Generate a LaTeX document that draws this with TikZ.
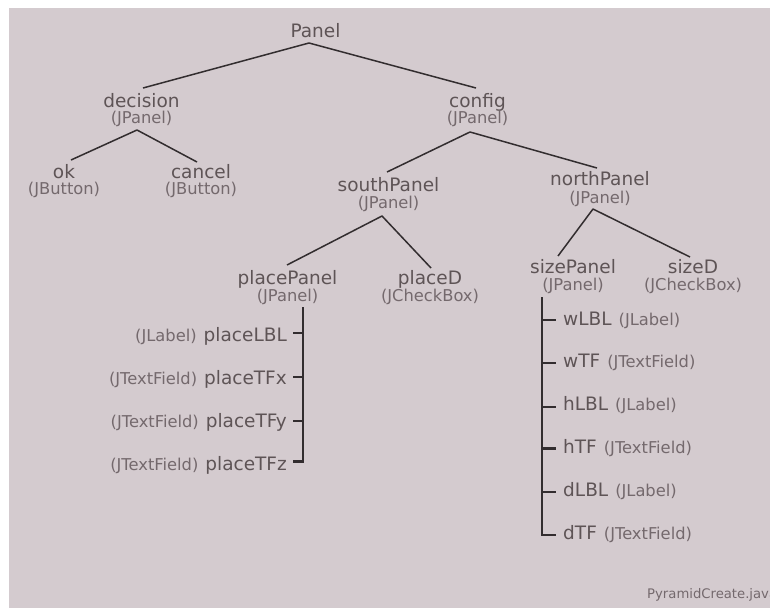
\documentclass[tikz,border=0pt]{standalone}
\usepackage{fontspec}
\newfontfamily\dejavu{DejaVu Sans}
\newcommand\namefont{\dejavu\fontsize{18.5}{20}\selectfont}
\newcommand\typefont{\dejavu\fontsize{16.3}{18}\selectfont}
\newcommand\filefont{\dejavu\fontsize{13.2}{15}\selectfont}
\definecolor{bgcol}{RGB}{212,203,207}
\definecolor{namecol}{RGB}{94,84,86}
\definecolor{typecol}{RGB}{116,105,109}
\definecolor{linecol}{RGB}{50,45,47}
\tikzset{
  compname/.style={font=\namefont, text=namecol, inner sep=0pt, anchor=base},
  comptype/.style={font=\typefont, text=typecol, inner sep=0pt, anchor=base},
  link/.style={draw=linecol, line width=1.5pt, line join=round},
  bar/.style={draw=linecol, line width=2.4pt, line join=miter},
  leftitem/.style={inner sep=0pt, anchor=base east, text=namecol},
  rightitem/.style={inner sep=0pt, anchor=base west, text=namecol},
}
\newcommand\tp[1]{{\typefont\color{typecol}#1}}
\newcommand\gap{\hspace{7pt}}
\begin{document}
\begin{tikzpicture}[x=1pt,y=-1pt]
\useasboundingbox (0,0) rectangle (770,608);
\fill[white] (0,0) rectangle (770,608);
\fill[bgcol] (8.5,7.5) rectangle (770,608);

% component tree
\node[compname] (panel) at (315.5,37.5) {Panel};

\node[compname] (decision) at (141.5,107) {decision};
\node[comptype] (decisionT) at (141.5,123) {(JPanel)};
\node[compname] (config) at (477.5,107) {config};
\node[comptype] (configT) at (477.5,123) {(JPanel)};

\node[compname] (ok) at (64,178) {ok};
\node[comptype] (okT) at (64,194) {(JButton)};
\node[compname] (cancel) at (201,178) {cancel};
\node[comptype] (cancelT) at (201,194) {(JButton)};

\node[compname] (south) at (388.5,191.5) {southPanel};
\node[comptype] (southT) at (388.5,208) {(JPanel)};
\node[compname] (north) at (600,185.5) {northPanel};
\node[comptype] (northT) at (600,203) {(JPanel)};

\node[compname] (place) at (287.5,284.5) {placePanel};
\node[comptype] (placeT) at (287.5,301.3) {(JPanel)};
\node[compname] (placeD) at (430,284.5) {placeD};
\node[comptype] (placeDT) at (430,301.3) {(JCheckBox)};

\node[compname] (size) at (573,273.3) {sizePanel};
\node[comptype] (sizeT) at (573,290) {(JPanel)};
\node[compname] (sizeD) at (693,273.3) {sizeD};
\node[comptype] (sizeDT) at (693,290) {(JCheckBox)};

% joints below each parent and ends above each child
\coordinate (panelJ) at (309,43);
\coordinate (decisionE) at (143,88);
\coordinate (configE) at (476,88);
\coordinate (decisionJ) at (137,130);
\coordinate (okE) at (71,160);
\coordinate (cancelE) at (197,162);
\coordinate (configJ) at (470,132);
\coordinate (southE) at (387,172);
\coordinate (northE) at (597,168);
\coordinate (southJ) at (382,216);
\coordinate (placeE) at (287,265);
\coordinate (placeDE) at (431,268);
\coordinate (northJ) at (593,209);
\coordinate (sizeE) at (558,256);
\coordinate (sizeDE) at (690,257);

\draw[link] (decisionE) -- (panelJ) -- (configE);
\draw[link] (okE) -- (decisionJ) -- (cancelE);
\draw[link] (southE) -- (configJ) -- (northE);
\draw[link] (placeE) -- (southJ) -- (placeDE);
\draw[link] (sizeE) -- (northJ) -- (sizeDE);

% placePanel children
\node[leftitem] (pLBL) at (287,341.7) {\tp{(JLabel)}\gap{\namefont placeLBL}};
\node[leftitem] (pTFx) at (287,384.7) {\tp{(JTextField)}\gap{\namefont placeTFx}};
\node[leftitem] (pTFy) at (287,427.5) {\tp{(JTextField)}\gap{\namefont placeTFy}};
\node[leftitem] (pTFz) at (287,470) {\tp{(JTextField)}\gap{\namefont placeTFz}};

\coordinate (pTop) at (303,307);
\coordinate (p1) at (303,333);
\coordinate (p2) at (303,377);
\coordinate (p3) at (303,421);
\coordinate (p4) at (303,461.5);
\draw[bar] (pTop) -- (p4) -- ++(-10,0);
\draw[bar] (p1) -- ++(-10,0);
\draw[bar] (p2) -- ++(-10,0);
\draw[bar] (p3) -- ++(-10,0);

% sizePanel children
\node[rightitem] (wLBL) at (563,325) {{\namefont wLBL}\gap\tp{(JLabel)}};
\node[rightitem] (wTF) at (563,367.7) {{\namefont wTF}\gap\tp{(JTextField)}};
\node[rightitem] (hLBL) at (563,410.7) {{\namefont hLBL}\gap\tp{(JLabel)}};
\node[rightitem] (hTF) at (563,453.3) {{\namefont hTF}\gap\tp{(JTextField)}};
\node[rightitem] (dLBL) at (563,496.7) {{\namefont dLBL}\gap\tp{(JLabel)}};
\node[rightitem] (dTF) at (563,539.3) {{\namefont dTF}\gap\tp{(JTextField)}};

\coordinate (sTop) at (542,297);
\coordinate (s1) at (542,320);
\coordinate (s2) at (542,363);
\coordinate (s3) at (542,407);
\coordinate (s4) at (542,448.5);
\coordinate (s5) at (542,492);
\coordinate (s6) at (542,535);
\draw[bar] (sTop) -- (s6) -- ++(14,0);
\foreach \c in {s1,s2,s3,s4,s5} \draw[bar] (\c) -- ++(14,0);

% file name, cut by the right edge
\begin{scope}
\clip (0,0) rectangle (770,608);
\node[inner sep=0pt, anchor=base west, font=\filefont, text=typecol] (file) at (647,598.5) {PyramidCreate.java};
\end{scope}
\end{tikzpicture}
\end{document}
